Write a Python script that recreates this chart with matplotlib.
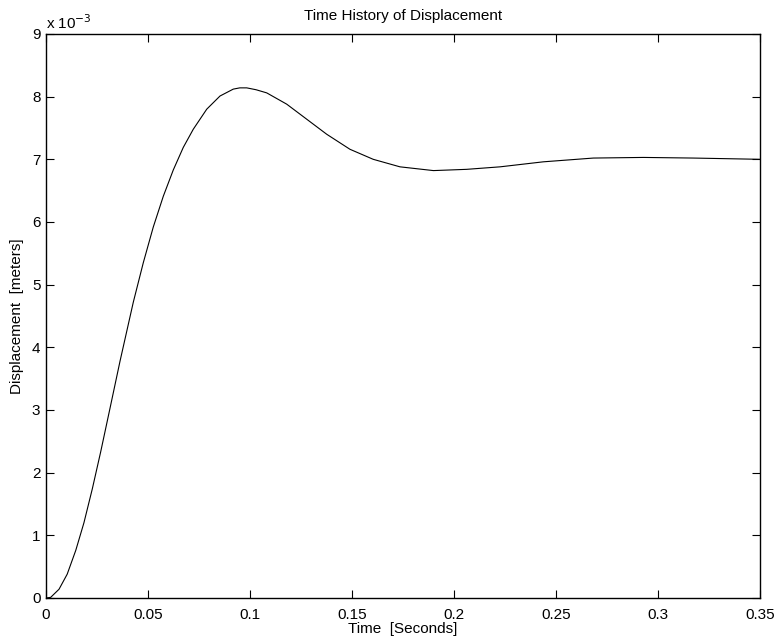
import numpy as np
import matplotlib
matplotlib.use("Agg")
import matplotlib.pyplot as plt

# ── data (time in s, displacement in units of 1e-3 m) ─
time_s = [0.0, 0.0023, 0.0064, 0.0104, 0.0146, 0.0186, 0.0227, 0.0268,
          0.0314, 0.0363, 0.0428, 0.0477, 0.0526, 0.0575, 0.0624, 0.0673,
          0.0722, 0.0788, 0.0853, 0.0918, 0.0950, 0.0984, 0.1030, 0.1082,
          0.1180, 0.1278, 0.1376, 0.1490, 0.1604, 0.1735, 0.1899, 0.2062,
          0.2226, 0.2438, 0.2683, 0.2928, 0.3173, 0.3500]
disp_e3 = [0.0, 0.01, 0.14, 0.38, 0.76, 1.20, 1.74, 2.33,
           3.03, 3.78, 4.72, 5.35, 5.92, 6.41, 6.83, 7.19,
           7.48, 7.80, 8.01, 8.12, 8.14, 8.14, 8.11, 8.06,
           7.88, 7.64, 7.40, 7.16, 7.00, 6.88, 6.82, 6.84,
           6.88, 6.96, 7.02, 7.03, 7.02, 7.00]

t = np.array(time_s)
y = np.array(disp_e3) * 1e-3

plt.rcParams["font.family"] = ["Liberation Sans", "DejaVu Sans"]
plt.rcParams["font.size"] = 11

fig = plt.figure(figsize=(7.78, 6.41), dpi=100)
ax = fig.add_axes([0.0591, 0.0671, 0.9178, 0.8799])

ax.plot(t, y, color="black", lw=0.8)

ax.set_xlim(0, 0.35)
ax.set_ylim(0, 9e-3)
ax.set_xticks(np.arange(0, 0.351, 0.05))
ax.set_xticklabels(["0", "0.05", "0.1", "0.15", "0.2", "0.25", "0.3", "0.35"])
ax.set_yticks(np.arange(0, 9.01e-3, 1e-3))
ax.set_yticklabels([str(i) for i in range(10)])

ax.tick_params(direction="in", top=True, right=True, length=6, width=0.8,
               labelsize=11)
ax.tick_params(axis="x", pad=7)
ax.tick_params(axis="y", pad=4)
for s in ax.spines.values():
    s.set_linewidth(1.0)

ax.text(0.0, 1.004, r"x 10$^{-3}$", transform=ax.transAxes,
        ha="left", va="bottom", fontsize=11)

ax.set_title("Time History of Displacement", fontsize=11, pad=10)
ax.set_xlabel("Time  [Seconds]", fontsize=11, labelpad=0)
ax.set_ylabel("Displacement  [meters]", fontsize=11, labelpad=6)

fig.savefig("out.png", dpi=100)
